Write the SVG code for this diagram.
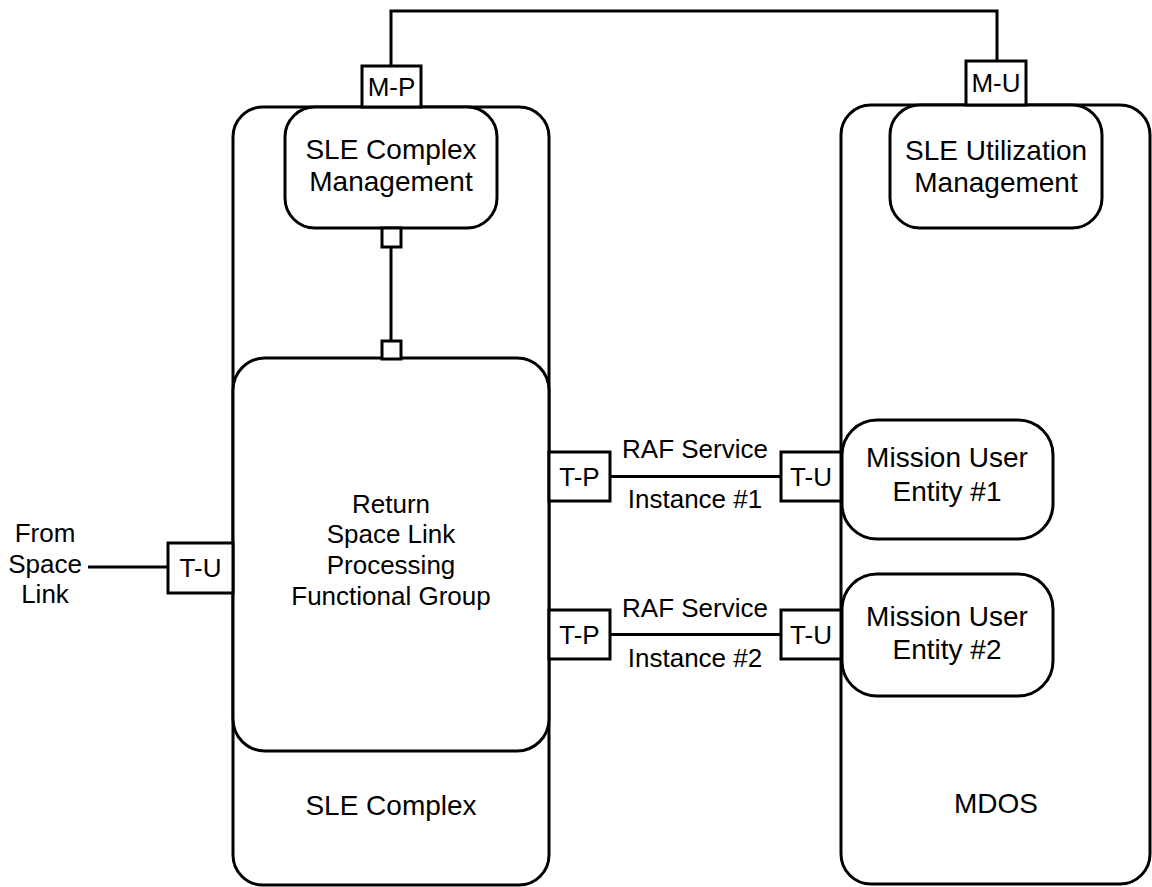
<svg xmlns="http://www.w3.org/2000/svg" width="1152" height="887" viewBox="0 0 1152 887">
<style>
.box{fill:#fff;stroke:#000;stroke-width:3}
.line{fill:none;stroke:#000;stroke-width:3}
text{font-family:"Liberation Sans",Arial,sans-serif;fill:#000;text-anchor:middle}
.big{font-size:28px}
.mid{font-size:26px}
</style>
<rect width="1152" height="887" fill="#fff"/>
<g id="sle-complex">
<rect class="box" x="233" y="107" width="316" height="778" rx="30"/>
<text class="big" x="391" y="815">SLE Complex</text>
</g>
<g id="mdos">
<rect class="box" x="841" y="105" width="309" height="779" rx="30"/>
<text class="big" x="996" y="813">MDOS</text>
</g>
<g id="sle-complex-management">
<rect class="box" x="285" y="107" width="212" height="121" rx="30"/>
<text class="big" x="391" y="159">SLE Complex</text>
<text class="big" x="391" y="191">Management</text>
</g>
<g id="sle-utilization-management">
<rect class="box" x="890" y="105" width="212" height="123" rx="30"/>
<text class="big" x="996" y="160">SLE Utilization</text>
<text class="big" x="996" y="192">Management</text>
</g>
<g id="rslp">
<rect class="box" x="233" y="358" width="316" height="393" rx="32"/>
<text class="mid" x="391" y="513">Return</text>
<text class="mid" x="391" y="543">Space Link</text>
<text class="mid" x="391" y="574">Processing</text>
<text class="mid" x="391" y="605">Functional Group</text>
</g>
<g id="mue1">
<rect class="box" x="842" y="420" width="211" height="119" rx="35"/>
<text class="big" x="947" y="467">Mission User</text>
<text class="big" x="947" y="501">Entity #1</text>
</g>
<g id="mue2">
<rect class="box" x="842" y="574" width="211" height="122" rx="35"/>
<text class="big" x="947" y="626">Mission User</text>
<text class="big" x="947" y="659">Entity #2</text>
</g>
<g id="connectors">
<path class="line" d="M391,66 V11 H997 V61"/>
<path class="line" d="M391,247 V341"/>
<path class="line" d="M610,476.5 H781"/>
<path class="line" d="M610,634.5 H781"/>
<path class="line" d="M88,567 H168"/>
<text class="mid" x="695" y="458">RAF Service</text>
<text class="mid" x="695" y="508">Instance #1</text>
<text class="mid" x="695" y="617">RAF Service</text>
<text class="mid" x="695" y="667">Instance #2</text>
</g>
<g id="port-mp">
<rect class="box" x="362" y="66" width="59" height="41"/>
<text class="mid" x="391.5" y="96">M-P</text>
</g>
<g id="port-mu">
<rect class="box" x="966" y="61" width="60" height="44"/>
<text class="mid" x="996" y="92">M-U</text>
</g>
<g id="port-small-top">
<rect class="box" x="382" y="228" width="19" height="19"/>
</g>
<g id="port-small-bottom">
<rect class="box" x="382" y="341" width="19" height="18"/>
</g>
<g id="port-tp1">
<rect class="box" x="549" y="452" width="61" height="49"/>
<text class="mid" x="579.5" y="486">T-P</text>
</g>
<g id="port-tp2">
<rect class="box" x="549" y="610" width="61" height="49"/>
<text class="mid" x="579.5" y="644">T-P</text>
</g>
<g id="port-tu1">
<rect class="box" x="781" y="452" width="60" height="49"/>
<text class="mid" x="811" y="486">T-U</text>
</g>
<g id="port-tu2">
<rect class="box" x="781" y="610" width="60" height="49"/>
<text class="mid" x="811" y="644">T-U</text>
</g>
<g id="port-tu-left">
<rect class="box" x="168" y="543" width="65" height="50"/>
<text class="mid" x="200.5" y="577">T-U</text>
</g>
<g id="space-link-label">
<text class="mid" x="45" y="542">From</text>
<text class="mid" x="45" y="573">Space</text>
<text class="mid" x="45" y="603">Link</text>
</g>
</svg>
